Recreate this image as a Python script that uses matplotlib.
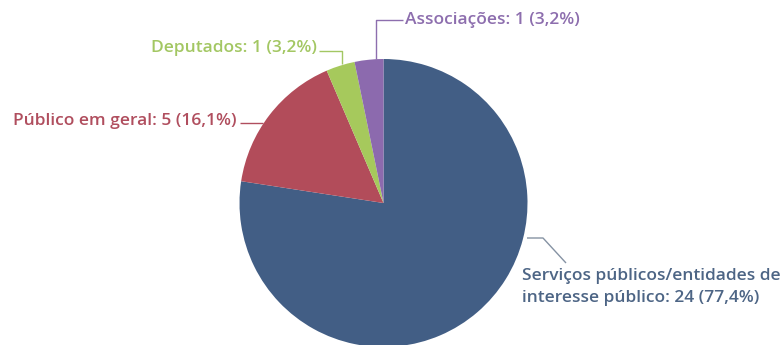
import matplotlib.pyplot as plt
import numpy as np

# data
labels = ['Serviços públicos/entidades de\ninteresse público', 'Público em geral', 'Deputados', 'Associações']
counts = [24, 5, 1, 1]
percent_txt = ['77,4%', '16,1%', '3,2%', '3,2%']
colors = ['#425e85', '#b24c5a', '#a6c95c', '#8c6aae']
text_colors = ['#4d6585', '#b04e5e', '#a3c763', '#8d6eae']

W, H = 784, 345
fig = plt.figure(figsize=(W / 100, H / 100), dpi=100)
ax = fig.add_axes([0, 0, 1, 1])

cx, cy, r = 383.5, H - 203, 144
wedges, _ = ax.pie(counts, colors=colors, startangle=90, counterclock=False,
                   center=(cx, cy), radius=r, frame=True,
                   wedgeprops=dict(linewidth=0))
ax.set_xlim(0, W)
ax.set_ylim(0, H)
ax.set_aspect('equal')
ax.axis('off')

font = dict(family='Open Sans', fontweight='semibold', fontsize=12.5)

def img(pts):
    # pixel coords (y down) -> data coords
    return [p[0] for p in pts], [H - p[1] for p in pts]

# leader lines (image pixel coords)
leaders = [
    [(527, 238), (543, 238), (566, 263)],
    [(263, 123), (240, 123)],
    [(342, 64), (342, 50.5), (319, 50.5)],
    [(376, 59), (376, 20), (403, 20)],
]
line_colors = ['#8592a3', '#b04e5e', '#a3c763', '#8d6eae']
for pts, lc in zip(leaders, line_colors):
    xs, ys = img(pts)
    ax.plot(xs, ys, color=lc, lw=1.0, solid_capstyle='butt')

texts = [f'{l}: {c} ({p})' for l, c, p in zip(labels, counts, percent_txt)]
ax.text(522, H - 286.5, texts[0], color=text_colors[0], ha='left', va='center',
        linespacing=1.5, **font)
ax.text(237, H - 121, texts[1], color=text_colors[1], ha='right', va='center', **font)
ax.text(317, H - 48.5, texts[2], color=text_colors[2], ha='right', va='center', **font)
ax.text(405, H - 20.5, texts[3], color=text_colors[3], ha='left', va='center', **font)

fig.savefig('out.png', dpi=100)
